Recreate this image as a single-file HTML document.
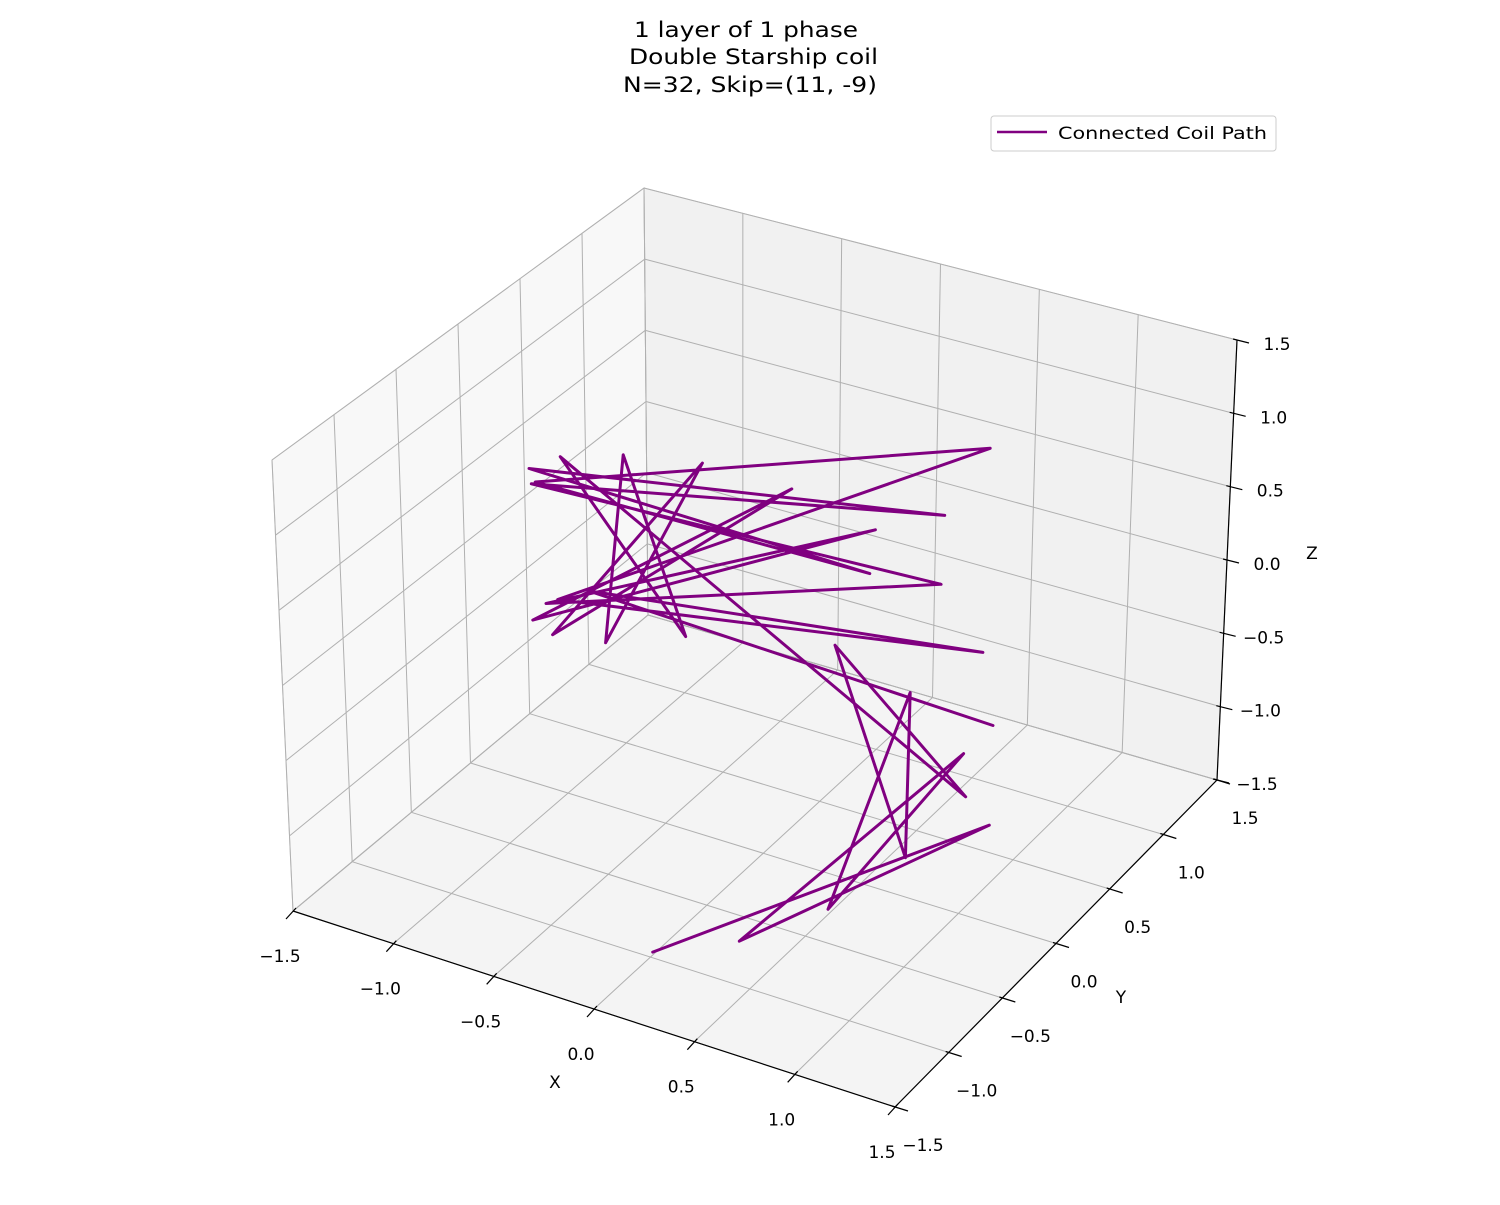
<!DOCTYPE html>
<html><head><meta charset="utf-8"><style>
body{margin:0;background:#fff;}
svg text{font-family:"DejaVu Sans","Liberation Sans",sans-serif;}
</style></head><body>
<svg id="chart" width="1500" height="1200" viewBox="0 0 1500 1200" xmlns="http://www.w3.org/2000/svg">
<rect width="1500" height="1200" fill="#fff"/>
<g font-size="21" fill="#000">
<text x="634" y="37" textLength="224" lengthAdjust="spacingAndGlyphs">1 layer of 1 phase</text>
<text x="629" y="64" textLength="249" lengthAdjust="spacingAndGlyphs">Double Starship coil</text>
<text x="623" y="92" textLength="254" lengthAdjust="spacingAndGlyphs">N=32, Skip=(11, -9)</text>
</g>
<g id="panes"></g><g id="grid"></g><g id="axes"></g><g id="series"></g>
<g>
<rect x="991" y="116" width="285" height="35" rx="3" fill="#fff" stroke="#ccc"/>
<line x1="997" y1="132" x2="1047" y2="132" stroke="#800080" stroke-width="2.6"/>
<text x="1058" y="139" font-size="17" textLength="209" lengthAdjust="spacingAndGlyphs">Connected Coil Path</text>
</g>
</svg>
<script>
const ticks = [-1.5, -1.0, -0.5, 0.0, 0.5, 1.0, 1.5];
const tickLabels = ["\u22121.5","\u22121.0","\u22120.5","0.0","0.5","1.0","1.5"];
const coilX = [-0.58,1.16,-0.13,1.03,0.33,0.76,0.73,0.38,1.04,-1.0,-0.38,-0.68,-0.79,-0.28,-1.06,0.17,-1.16,0.59,-1.09,0.92,-1.15,0.94,-1.16,0.56,-1.13,1.17,-1.03,1.13,-0.87,1.18];
const coilY = [0,0,0,0,0,0,0,0,0,0,0,0,0,0,0,0,0,0,0,0,0,0,0,0,0,0,0,0,0,0];
const coilZ = [-2.40,-0.86,-2.14,-0.44,-1.74,-0.14,-1.24,0.03,-0.72,0.78,-0.20,0.91,-0.40,1.00,-0.45,0.99,-0.39,0.87,-0.25,0.63,0.54,1.09,0.64,0.57,0.56,1.61,-0.20,0.26,-0.08,-0.20];

const NS="http://www.w3.org/2000/svg";
const C={ '000':[293,911],'100':[895,1107],'110':[1217,780],'010':[648,615],
          '001':[272,460],'101':[875,625],'111':[1237,340],'011':[644,188]};
function proj(x,y,z){
  const u=(x+1.5)/3,v=(y+1.5)/3,w=(z+1.5)/3;
  let px=0,py=0;
  for(const a of [0,1])for(const b of [0,1])for(const c of [0,1]){
    const wt=(a?u:1-u)*(b?v:1-v)*(c?w:1-w);
    const p=C[''+a+b+c];px+=wt*p[0];py+=wt*p[1];
  }
  return [px,py];
}
function mk(tag,attrs,parent){const e=document.createElementNS(NS,tag);for(const k in attrs)e.setAttribute(k,attrs[k]);parent.appendChild(e);return e;}
function poly(pts){return pts.map(p=>proj(...p).map(v=>v.toFixed(1)).join(',')).join(' ');}
const panes=document.getElementById('panes'),grid=document.getElementById('grid'),axes=document.getElementById('axes'),series=document.getElementById('series');
const lo=-1.5,hi=1.5;
let e;
e=mk('polygon',{points:poly([[lo,lo,lo],[hi,lo,lo],[hi,hi,lo],[lo,hi,lo]]),fill:'#f4f4f4',stroke:'#d0d0d0'},panes);


e=mk('polygon',{points:poly([[lo,lo,lo],[lo,hi,lo],[lo,hi,hi],[lo,lo,hi]]),fill:'#f8f8f8',stroke:'#d0d0d0'},panes);


e=mk('polygon',{points:poly([[lo,hi,lo],[hi,hi,lo],[hi,hi,hi],[lo,hi,hi]]),fill:'#f1f1f1',stroke:'#d0d0d0'},panes);


function gl(a,b,name){const p=proj(...a),q=proj(...b);
  const l=mk('line',{x1:p[0],y1:p[1],x2:q[0],y2:q[1],stroke:'#b0b0b0','stroke-width':1},grid);
  
  }
ticks.forEach(t=>{
  gl([t,lo,lo],[t,hi,lo],'floor-gridline-x');
  gl([lo,t,lo],[hi,t,lo],'floor-gridline-y');
  gl([lo,t,lo],[lo,t,hi],'left-gridline-y');
  gl([lo,lo,t],[lo,hi,t],'left-gridline-z');
  gl([t,hi,lo],[t,hi,hi],'back-gridline-x');
  gl([lo,hi,t],[hi,hi,t],'back-gridline-z');
});
function sl(p,q,name){
  const l=mk('line',{x1:p[0],y1:p[1],x2:q[0],y2:q[1],stroke:'#000','stroke-width':1.2},axes);
  
  }
function al(a,b,name){sl(proj(...a),proj(...b),name);}
al([lo,lo,lo],[hi,lo,lo],'x-axis-line');
al([hi,lo,lo],[hi,hi,lo],'y-axis-line');
al([hi,hi,lo],[hi,hi,hi],'z-axis-line');
function lab(x,y,txt,name,anchor){
  const t=mk('text',{x:x,y:y,'font-size':17,'text-anchor':anchor||'middle'},axes);
  t.textContent=txt;
  
  }
ticks.forEach((t,i)=>{
  const px=proj(t,lo,lo);
  sl([px[0]+3,px[1]-3],[px[0]-7,px[1]+8],'x-tick');
  lab(px[0]-13,px[1]+51,tickLabels[i],'x-tick-label');
  const py=proj(hi,t,lo);
  sl([py[0]-3,py[1]-1],[py[0]+13,py[1]+4],'y-tick');
  lab(py[0]+28,py[1]+44,tickLabels[i],'y-tick-label');
  const pz=proj(hi,hi,t);
  sl([pz[0]-4,pz[1]-1],[pz[0]+12,pz[1]+3],'z-tick');
  lab(pz[0]+40,pz[1]+10,tickLabels[i],'z-tick-label');
});
lab(555,1088,'X','x-axis-title');
lab(1121,1003,'Y','y-axis-title');
lab(1312,559,'Z','z-axis-title');
const pts=coilX.map((x,i)=>[x,coilY[i],coilZ[i]]);
const path=mk('polyline',{points:poly(pts),fill:'none',stroke:'#800080','stroke-width':3,'stroke-linejoin':'round','stroke-linecap':'round'},series);


</script>
</body></html>
